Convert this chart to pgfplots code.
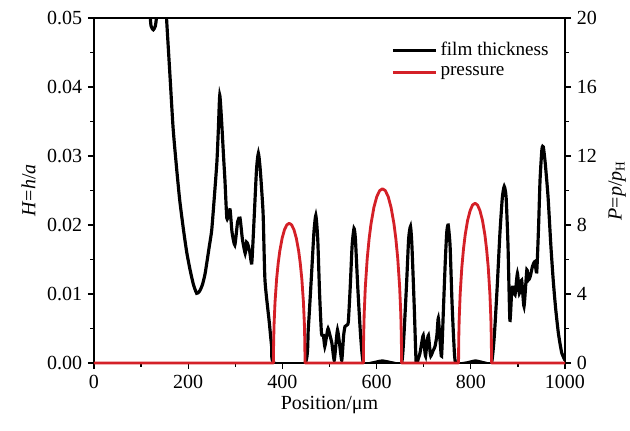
\documentclass[border=0pt]{standalone}
\usepackage{fontspec}
\setmainfont{Liberation Serif}
\usepackage{pgfplots}
\pgfplotsset{compat=1.18}
\definecolor{pressRed}{HTML}{D42027}

\pgfplotstableread{
x H
100 0.070
119 0.0505
122 0.0487
126 0.0483
130 0.0488
133 0.0505
140 0.060
148 0.058
154 0.050
161 0.042
168 0.034
175 0.0285
182 0.0236
190 0.0193
197 0.0160
204 0.0135
211 0.0114
218 0.0101
224 0.0104
230 0.0113
236 0.0130
245 0.0170
250 0.0193
256 0.0245
261 0.0292
264 0.0338
267 0.0388
271 0.0350
275 0.0300
278 0.0265
282 0.0210
286 0.0215
289 0.0222
293 0.0190
299 0.0171
305 0.0205
310 0.0210
315 0.0180
321 0.0159
324 0.0175
327 0.0171
331 0.0160
335 0.0145
340 0.0210
345 0.0280
349 0.0304
353 0.0280
359 0.0217
363 0.0120
372 0.0060
377 0.0025
382 0.0
448 0.0
455 0.0050
462 0.0130
467 0.0190
471 0.0214
475 0.0180
479 0.0100
483 0.0043
487 0.0040
490 0.0024
494 0.0040
497 0.0050
501 0.0040
505 0.0029
510 0.0004
514 0.0030
517 0.0048
521 0.0030
526 0.0004
530 0.0040
533 0.0053
537 0.0055
540 0.0060
544 0.0110
548 0.0170
552 0.0195
555 0.0180
560 0.0110
566 0.0040
572 0.0
590 0.0
612 0.0003
635 0.0
653 0.0
658 0.0040
664 0.0120
668 0.0180
672 0.0198
675 0.0170
680 0.0080
684 0.0
688 0.0005
692 0.0014
696 0.0030
699 0.0040
702 0.0020
704 0.0010
707 0.0030
710 0.0040
713 0.0020
715 0.0010
720 0.0018
724 0.0024
728 0.0040
731 0.0065
735 0.0030
738 0.0010
742 0.0080
746 0.0150
749 0.0190
752 0.0200
756 0.0170
760 0.0090
764 0.0030
768 0.0
790 0.0
810 0.0003
830 0.0
844 0.0
850 0.0040
856 0.0110
862 0.0190
867 0.0240
871 0.0256
875 0.0240
879 0.0170
883 0.0062
887 0.0106
890 0.0110
894 0.0099
899 0.0130
903 0.0101
908 0.0120
913 0.0082
919 0.0135
922 0.0120
926 0.0125
931 0.0140
936 0.0147
940 0.0132
944 0.0200
947 0.0265
951 0.0310
954 0.0313
958 0.0290
964 0.0241
970 0.0170
975 0.0120
980 0.0080
986 0.0043
993 0.0015
1000 0.0004
}\filmdata

\pgfplotstableread{
x P
0 0
381 0
381.33 1.14
382.34 2.27
384.35 3.53
387.7 4.86
391.05 5.78
394.4 6.48
399.42 7.23
404.45 7.73
409.47 8.01
414.5 8.10
419.53 8.01
424.55 7.73
429.58 7.23
434.6 6.48
437.95 5.78
441.3 4.86
444.65 3.53
446.66 2.27
447.67 1.14
448 0
572 0
572.4 1.42
573.62 2.83
576.05 4.40
580.1 6.06
584.15 7.21
588.2 8.08
594.27 9.02
600.35 9.64
606.42 9.99
612.5 10.10
618.58 9.99
624.65 9.64
630.73 9.02
636.8 8.08
640.85 7.21
644.9 6.06
648.95 4.40
651.38 2.83
652.6 1.42
653 0
774 0
774.35 1.31
775.4 2.59
777.5 4.04
781 5.56
784.5 6.61
788 7.41
793.25 8.27
798.5 8.83
803.75 9.16
809 9.26
814.25 9.16
819.5 8.83
824.75 8.27
830 7.41
833.5 6.61
837 5.56
840.5 4.04
842.6 2.59
843.65 1.31
844 0
1000 0
}\pressdata

\begin{document}
\begin{tikzpicture}
\pgfplotsset{
  every axis/.append style={
    scale only axis,
    width=282.6pt, height=207pt,
    at={(0,0)}, anchor=south west,
    xmin=0, xmax=1000,
    font=\fontsize{12}{14}\selectfont,
    tick align=outside,
    major tick length=3.6pt,
    minor tick length=2.2pt,
    every tick/.style={black, line width=0.8pt},
    axis line style={line width=0.9pt},
    /pgf/number format/assume math mode=true,
  }
}
\begin{axis}[
  ymin=0, ymax=0.05,
  xtick={0,200,...,1000},
  minor x tick num=1,
  ytick={0,0.01,...,0.05},
  minor y tick num=1,
  xtick pos=bottom,
  ytick pos=left,
  xticklabel style={/pgf/number format/set thousands separator={}},
  yticklabel style={/pgf/number format/.cd, fixed, fixed zerofill, precision=2},
  scaled y ticks=false,
  xlabel={Position/μm},
  ylabel={\textit{H}=\textit{h}/\textit{a}},
  xlabel style={yshift=2pt},
]
\addplot[black, line width=1.9pt, smooth, tension=0.35] table[x=x, y=H] {\filmdata};
\end{axis}
\begin{axis}[
  ymin=0, ymax=20,
  axis y line*=right,
  axis x line=none,
  ytick={0,4,...,20},
  minor y tick num=1,
  ylabel={\textit{P}=\textit{p}/\textit{p}\textsubscript{H}},
  clip=false,
  legend style={at={(0.62,0.95)}, anchor=north west, draw=none, fill=none,
    font=\fontsize{11.5}{13}\selectfont, row sep=1pt},
  legend cell align=left,
  legend image code/.code={\draw[#1] (0cm,0cm) -- (0.9cm,0cm);},
]
\addlegendimage{black, line width=1.9pt}
\addlegendentry{film thickness}
\addplot[pressRed, line width=1.7pt, line join=round] table[x=x, y=P] {\pressdata};
\addlegendentry{pressure}
\end{axis}
\pgfresetboundingbox
\path[use as bounding box] (-56.4pt,-40.2pt) rectangle (321.6pt,217.8pt);
\end{tikzpicture}
\end{document}
